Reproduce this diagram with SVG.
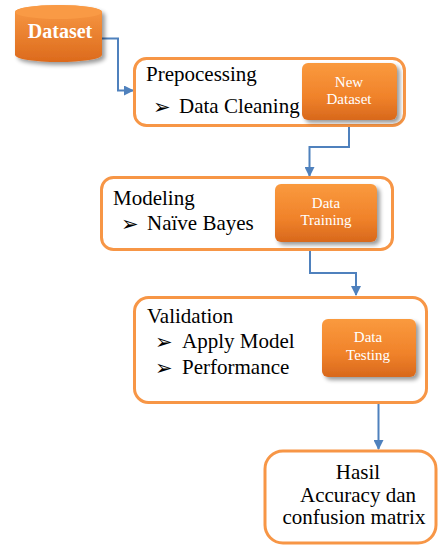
<svg xmlns="http://www.w3.org/2000/svg" width="438" height="546" viewBox="0 0 438 546">
<defs>
<linearGradient id="og" x1="0" y1="0" x2="0" y2="1">
<stop offset="0" stop-color="#fa9a3e"/>
<stop offset="0.6" stop-color="#f0822a"/>
<stop offset="1" stop-color="#d8681c"/>
</linearGradient>
<linearGradient id="cyl" x1="0" y1="0" x2="0" y2="1">
<stop offset="0" stop-color="#f99a45"/>
<stop offset="1" stop-color="#dc6a1c"/>
</linearGradient>
<filter id="sh" x="-20%" y="-20%" width="150%" height="150%">
<feGaussianBlur in="SourceAlpha" stdDeviation="2"/>
<feOffset dx="3" dy="3" result="b"/>
<feComponentTransfer><feFuncA type="linear" slope="0.4"/></feComponentTransfer>
<feMerge><feMergeNode/><feMergeNode in="SourceGraphic"/></feMerge>
</filter>
<marker id="ah2" viewBox="0 0 10 10" refX="9" refY="5" markerWidth="10" markerHeight="10" orient="auto" markerUnits="userSpaceOnUse">
<path d="M0,0 L10,5 L0,10 Z" fill="#4f81bd"/>
</marker>
</defs>
<style>
.frame{fill:#fff;stroke:#f79646;stroke-width:3}
.inner{fill:url(#og);filter:url(#sh)}
.t{font-family:'Liberation Serif','DejaVu Serif','Times New Roman',serif;font-size:21px;fill:#000}
.w{font-family:'Liberation Serif','DejaVu Serif','Times New Roman',serif;font-size:15px;fill:#fff;text-anchor:middle}
.b{font-family:'DejaVu Sans',sans-serif;font-size:21px;fill:#000}
.c{fill:none;stroke:#4f81bd;stroke-width:2;marker-end:url(#ah2)}
</style>
<rect width="438" height="546" fill="#fff"/>

<g id="connectors">
<path class="c" d="M102,38.5 H118 V90.5 H133"/>
<path class="c" d="M349,127 V147 H309.5 V176"/>
<path class="c" d="M310,251 V273 H356 V295"/>
<path class="c" d="M378.5,404 V449"/>
</g>

<g id="dataset">
<path d="M15,12 A43.5,7 0 0 1 102,12 L102,55 A43.5,7 0 0 1 15,55 Z" fill="url(#cyl)" filter="url(#sh)"/>
<ellipse cx="58.5" cy="12" rx="43.5" ry="7" fill="#f99a45"/>
<text x="60" y="38" text-anchor="middle" font-family="'Liberation Serif','DejaVu Serif',serif" font-weight="bold" font-size="20" fill="#fff">Dataset</text>
</g>

<g id="prepocessing">
<rect class="frame" x="134.5" y="58.5" width="270" height="67" rx="12"/>
<text class="t" x="146" y="81">Prepocessing</text>
<text class="b" x="153" y="114">➢</text>
<text class="t" x="179" y="113">Data Cleaning</text>
</g>

<g id="new-dataset">
<rect class="inner" x="302" y="63" width="95" height="57" rx="6"/>
<text class="w" x="349" y="87">New</text>
<text class="w" x="349" y="104">Dataset</text>
</g>

<g id="modeling">
<rect class="frame" x="101.5" y="177.5" width="291" height="72" rx="12"/>
<text class="t" x="113" y="205">Modeling</text>
<text class="b" x="121" y="231">➢</text>
<text class="t" x="147" y="230">Naïve Bayes</text>
</g>

<g id="data-training">
<rect class="inner" x="275" y="184" width="102" height="58" rx="6"/>
<text class="w" x="326" y="208">Data</text>
<text class="w" x="326" y="225">Training</text>
</g>

<g id="validation">
<rect class="frame" x="134.5" y="297.5" width="292" height="105" rx="14"/>
<text class="t" x="147" y="323">Validation</text>
<text class="b" x="155" y="349">➢</text>
<text class="t" x="182" y="348">Apply Model</text>
<text class="b" x="155" y="375">➢</text>
<text class="t" x="182" y="374">Performance</text>
</g>

<g id="data-testing">
<rect class="inner" x="322" y="319" width="94" height="58" rx="6"/>
<text class="w" x="368" y="342">Data</text>
<text class="w" x="368" y="360">Testing</text>
</g>

<g id="hasil">
<rect class="frame" x="265" y="451" width="171" height="92" rx="18"/>
<text class="t" x="358" y="479" text-anchor="middle">Hasil</text>
<text class="t" x="358" y="502" text-anchor="middle">Accuracy dan</text>
<text class="t" x="354" y="524" text-anchor="middle">confusion matrix</text>
</g>
</svg>
